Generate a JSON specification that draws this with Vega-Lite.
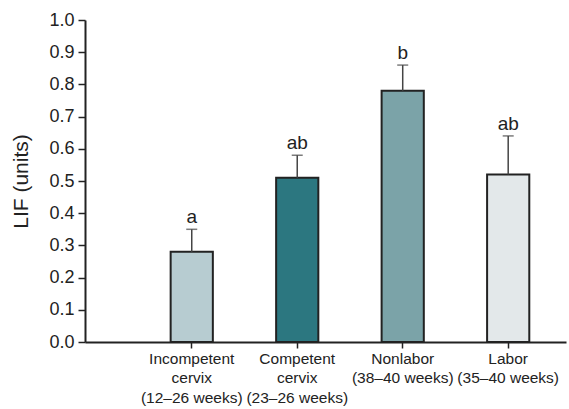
{
  "$schema": "https://vega.github.io/schema/vega-lite/v6.json",
  "width": 481,
  "height": 322,
  "autosize": {"type": "none"},
  "padding": {"left": 85, "top": 20, "right": 3, "bottom": 67},
  "background": "white",
  "config": {
    "view": {"stroke": null},
    "font": "Liberation Sans",
    "axis": {"grid": false, "domainColor": "#222", "domainWidth": 2, "tickColor": "#222", "tickWidth": 1.5, "labelColor": "#222", "titleColor": "#222", "labelFont": "Liberation Sans", "titleFont": "Liberation Sans", "labelOverlap": false}
  },
  "data": {
    "values": [
      {"group": "Incompetent|cervix|(12–26 weeks)", "lif": 0.28, "upper": 0.35, "sig": "a", "color": "c1"},
      {"group": "Competent|cervix|(23–26 weeks)", "lif": 0.51, "upper": 0.58, "sig": "ab", "color": "c2"},
      {"group": "Nonlabor|(38–40 weeks)", "lif": 0.78, "upper": 0.86, "sig": "b", "color": "c3"},
      {"group": "Labor|(35–40 weeks)", "lif": 0.52, "upper": 0.64, "sig": "ab", "color": "c4"}
    ]
  },
  "encoding": {
    "x": {
      "field": "group", "type": "nominal", "sort": null,
      "scale": {"paddingInner": 0.6, "paddingOuter": 0.58, "align": 0.7},
      "axis": {"title": null, "labelAngle": 0, "labelExpr": "split(datum.label, '|')", "labelFontSize": 15.5, "labelLineHeight": 19.5, "tickSize": 6, "labelPadding": 3, "domainWidth": 2}
    },
    "y": {
      "field": "lif", "type": "quantitative",
      "scale": {"domain": [0, 1]},
      "axis": {"title": "LIF (units)", "titleFontSize": 21, "titleFontWeight": "normal", "titlePadding": 17, "labelFontSize": 18, "values": [0, 0.1, 0.2, 0.3, 0.4, 0.5, 0.6, 0.7, 0.8, 0.9, 1.0], "format": ".1f", "tickSize": 7, "labelPadding": 4, "labelOverlap": false}
    }
  },
  "layer": [
    {
      "mark": {"type": "bar", "stroke": "#222", "strokeWidth": 2},
      "encoding": {
        "fill": {
          "field": "color", "type": "nominal",
          "scale": {"domain": ["c1", "c2", "c3", "c4"], "range": ["#b7ccd1", "#2c7780", "#7ba3a8", "#e3e8ea"]},
          "legend": null
        }
      }
    },
    {
      "mark": {"type": "rule", "color": "#444", "strokeWidth": 1.5},
      "encoding": {
        "y2": {"field": "upper"}
      }
    },
    {
      "mark": {"type": "tick", "orient": "horizontal", "color": "#444", "size": 11, "thickness": 1.5},
      "encoding": {
        "y": {"field": "upper", "type": "quantitative"}
      }
    },
    {
      "mark": {"type": "text", "baseline": "alphabetic", "dy": -6, "fontSize": 19, "color": "#222"},
      "encoding": {
        "y": {"field": "upper", "type": "quantitative"},
        "text": {"field": "sig"}
      }
    }
  ]
}
